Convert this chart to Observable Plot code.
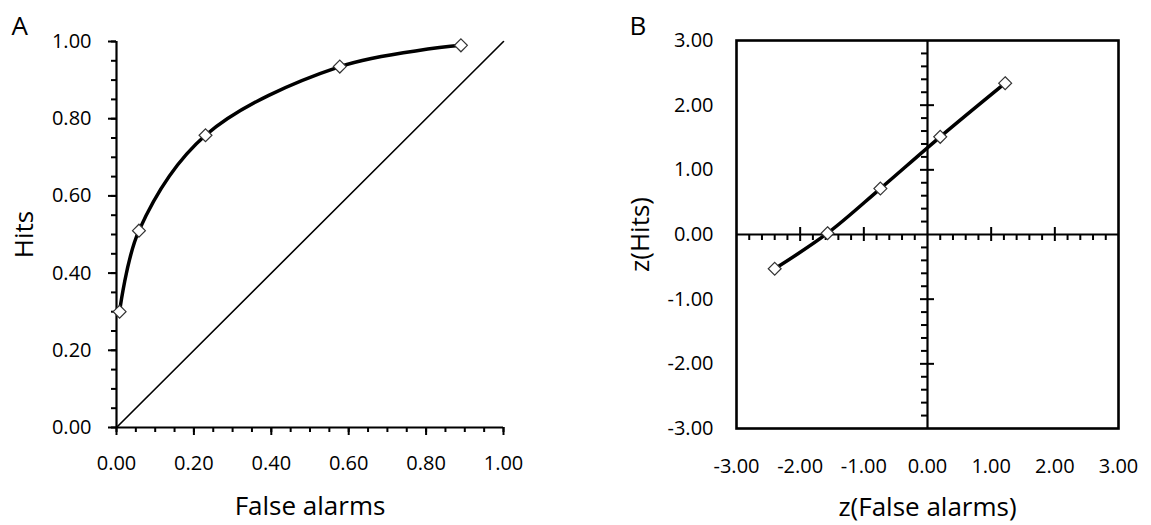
<!DOCTYPE html>
<html>
<head>
<meta charset="utf-8">
<script src="https://cdn.jsdelivr.net/npm/d3@7"></script>
<script src="https://cdn.jsdelivr.net/npm/@observablehq/plot@0.6"></script>
<style>
  html, body { margin: 0; padding: 0; background: #fff; }
  #wrap { display: flex; width: 1151px; height: 525px; font-family: "Open Sans", sans-serif; }
  #wrap svg { display: block; overflow: visible; }
</style>
</head>
<body>
<div id="wrap"></div>
<script>
// Panel A: ROC in probability space
const falseAlarms = [0.008, 0.058, 0.23, 0.577, 0.89];
const hits = [0.30, 0.51, 0.757, 0.935, 0.99];
// Panel B: z-transformed ROC
const zFalseAlarms = [-2.40, -1.57, -0.74, 0.20, 1.22];
const zHits = [-0.53, 0.02, 0.71, 1.51, 2.34];

const ticksA = [0, 0.2, 0.4, 0.6, 0.8, 1.0];
const minorA = d3.range(0, 21).map(i => i * 0.05);
const ticksB = [-3, -2, -1, 0, 1, 2, 3];
const minorB = d3.range(-14, 15).map(i => +(i * 0.2).toFixed(1)).filter(v => Math.abs(v - Math.round(v)) > 1e-9);
const majorB = [-2, -1, 1, 2];

const ptsA = falseAlarms.map((x, i) => ({x, y: hits[i]}));
const ptsB = zFalseAlarms.map((x, i) => ({x, y: zHits[i]}));
const diag = [{x: 0, y: 0}, {x: 1, y: 1}];

const font = "Open Sans";
const fmt2 = d => d.toFixed(2);
const tickFont = 20;
const titleFont = 26;

const plotA = Plot.plot({
  width: 575, height: 525,
  marginLeft: 116, marginRight: 72, marginTop: 41, marginBottom: 98,
  style: {fontFamily: font, fontSize: tickFont + "px", color: "#000", background: "#fff"},
  x: {domain: [0, 1]},
  y: {domain: [0, 1]},
  marks: [
    Plot.axisY({ticks: minorA, tickSize: 5, strokeWidth: 2, tickFormat: () => "", label: null}),
    Plot.axisY({ticks: ticksA, tickSize: 8, strokeWidth: 2, tickPadding: 17, tickFormat: fmt2, fontSize: tickFont, label: null}),
    Plot.axisX({ticks: minorA, tickSize: 5, strokeWidth: 2, tickFormat: () => "", label: null}),
    Plot.axisX({ticks: ticksA, tickSize: 8, strokeWidth: 2, tickPadding: 20, tickFormat: fmt2, fontSize: tickFont, label: null}),
    Plot.ruleX([0], {strokeWidth: 2.2}),
    Plot.ruleY([0], {strokeWidth: 2.2}),
    Plot.line(diag, {x: "x", y: "y", stroke: "#000", strokeWidth: 1.6}),
    Plot.line(ptsA, {x: "x", y: "y", curve: "catmull-rom", stroke: "#000", strokeWidth: 3.5}),
    Plot.dot(ptsA, {x: "x", y: "y", symbol: "diamond2", r: 5.8, fill: "#fff", stroke: "#333", strokeWidth: 1.2}),
    Plot.text(["Hits"], {frameAnchor: "left", dx: -92, rotate: -90, textAnchor: "middle", lineAnchor: "middle", fontSize: titleFont}),
    Plot.text(["False alarms"], {frameAnchor: "bottom", dy: 79, textAnchor: "middle", lineAnchor: "middle", fontSize: titleFont}),
    Plot.text(["A"], {frameAnchor: "top-left", dx: -105, dy: -25, textAnchor: "start", lineAnchor: "top", fontSize: 26})
  ]
});

const plotB = Plot.plot({
  width: 576, height: 525,
  marginLeft: 161, marginRight: 33, marginTop: 40, marginBottom: 97,
  style: {fontFamily: font, fontSize: tickFont + "px", color: "#000", background: "#fff"},
  x: {domain: [-3, 3]},
  y: {domain: [-3, 3]},
  marks: [
    Plot.axisY({ticks: ticksB, tickSize: 0, tickPadding: 23, tickFormat: fmt2, fontSize: tickFont, label: null}),
    Plot.axisX({ticks: ticksB, tickSize: 0, tickPadding: 30, tickFormat: fmt2, fontSize: tickFont, label: null}),
    Plot.frame({stroke: "#000", strokeWidth: 2.6}),
    Plot.ruleX([0], {strokeWidth: 2.2}),
    Plot.ruleY([0], {strokeWidth: 2.2}),
    // minor ticks on the horizontal zero axis (below)
    Plot.ruleX(minorB, {x: d => d, y1: 0, y2: 0, insetTop: 6, insetBottom: 0, strokeWidth: 2}),
    // major ticks crossing the horizontal zero axis
    Plot.ruleX(majorB, {x: d => d, y1: 0, y2: 0, insetTop: 7, insetBottom: 7, strokeWidth: 2}),
    // minor ticks on the vertical zero axis (left)
    Plot.ruleY(minorB, {y: d => d, x1: 0, x2: 0, insetLeft: 0, insetRight: 6, strokeWidth: 2}),
    // major ticks crossing the vertical zero axis
    Plot.ruleY(majorB, {y: d => d, x1: 0, x2: 0, insetLeft: 7, insetRight: 7, strokeWidth: 2}),
    Plot.line(ptsB, {x: "x", y: "y", curve: "catmull-rom", stroke: "#000", strokeWidth: 3.5}),
    Plot.dot(ptsB, {x: "x", y: "y", symbol: "diamond2", r: 5.8, fill: "#fff", stroke: "#333", strokeWidth: 1.2}),
    Plot.text(["z(Hits)"], {frameAnchor: "left", dx: -96, rotate: -90, textAnchor: "middle", lineAnchor: "middle", fontSize: titleFont}),
    Plot.text(["z(False alarms)"], {frameAnchor: "bottom", dy: 79, textAnchor: "middle", lineAnchor: "middle", fontSize: titleFont}),
    Plot.text(["B"], {frameAnchor: "top-left", dx: -107, dy: -24, textAnchor: "start", lineAnchor: "top", fontSize: 26})
  ]
});

document.getElementById("wrap").append(plotA, plotB);
</script>
</body>
</html>
